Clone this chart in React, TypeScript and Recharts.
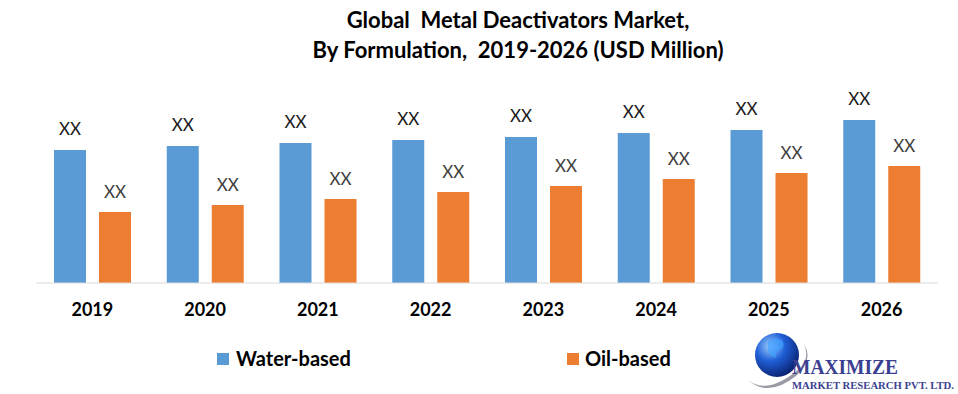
import { Bar, BarChart, LabelList, XAxis, YAxis } from 'recharts';

const years = ['2019', '2020', '2021', '2022', '2023', '2024', '2025', '2026'];
const waterBased = [133, 137, 140, 143, 146, 150, 153, 163];
const oilBased = [71, 78, 84, 91, 97, 104, 110, 117];
const valueLabel = 'XX';

const BLUE = '#5B9BD5';
const ORANGE = '#ED7D31';
const FONT = 'Lato, "Open Sans", sans-serif';

const data = years.map((year, i) => ({ year, water: waterBased[i], oil: oilBased[i] }));

function Logo() {
  return (
    <svg width={220} height={78} style={{ position: 'absolute', left: 738, top: 314 }}>
      <defs>
        <radialGradient id="globe" cx="35%" cy="30%" r="75%">
          <stop offset="0%" stopColor="#9fd0ff" />
          <stop offset="45%" stopColor="#1f5fd6" />
          <stop offset="100%" stopColor="#0a1f6e" />
        </radialGradient>
      </defs>
      <path d="M 10 66 Q 30 82 62 54 Q 72 44 66 30 Q 76 46 58 62 Q 30 84 10 66 Z" fill="#9a9aa6" />
      <circle cx={39} cy={41} r={22} fill="url(#globe)" />
      <path d="M 30 28 q 6 -6 14 -2 q 4 6 -2 10 q -6 2 -4 8 q -6 -2 -8 -8 z" fill="#3fa0ff" opacity={0.7} />
      <text x={54} y={60} fontFamily='"Liberation Serif", serif' fontWeight={700} fontSize={20} fill="#3b3f91" textLength={106} lengthAdjust="spacingAndGlyphs">
        MAXIMIZE
      </text>
      <text x={54} y={75} fontFamily='"Liberation Serif", serif' fontWeight={700} fontSize={10.5} fill="#3b3f91" textLength={162} lengthAdjust="spacingAndGlyphs">
        MARKET RESEARCH PVT. LTD.
      </text>
    </svg>
  );
}

export default function App() {
  return (
    <div style={{ position: 'absolute', left: 0, top: 0, width: 958, height: 394, background: '#fff', fontFamily: FONT }}>
      <div style={{ position: 'absolute', left: 0, width: 1036, top: 5, textAlign: 'center', fontWeight: 700, fontSize: 22, lineHeight: '30px', color: '#000', whiteSpace: 'pre' }}>
        {'Global  Metal Deactivators Market,\nBy Formulation,  2019-2026 (USD Million)'}
      </div>
      <BarChart width={958} height={394} data={data} margin={{ top: 103, right: 20, left: 36, bottom: 81 }} barSize={32} barGap={13}>
        <XAxis
          dataKey="year"
          height={30}
          axisLine={{ stroke: '#d9d9d9' }}
          tickLine={false}
          tickMargin={14}
          tick={{ fontFamily: FONT, fontWeight: 700, fontSize: 18, fill: '#000' }}
        />
        <YAxis hide domain={[0, 180]} />
        <Bar dataKey="water" fill={BLUE} isAnimationActive={false}>
          <LabelList position="top" offset={15} formatter={() => valueLabel} style={{ fontFamily: FONT, fontSize: 17, fill: '#1a1a1a' }} />
        </Bar>
        <Bar dataKey="oil" fill={ORANGE} isAnimationActive={false}>
          <LabelList position="top" offset={14} formatter={() => valueLabel} style={{ fontFamily: FONT, fontSize: 17, fill: '#404040' }} />
        </Bar>
      </BarChart>
      <div style={{ position: 'absolute', left: 217, top: 353, width: 12, height: 12, background: BLUE }} />
      <div style={{ position: 'absolute', left: 236, top: 346, fontWeight: 700, fontSize: 20, lineHeight: '24px' }}>Water-based</div>
      <div style={{ position: 'absolute', left: 567, top: 353, width: 12, height: 12, background: ORANGE }} />
      <div style={{ position: 'absolute', left: 585, top: 346, fontWeight: 700, fontSize: 20, lineHeight: '24px' }}>Oil-based</div>
      <Logo />
    </div>
  );
}
